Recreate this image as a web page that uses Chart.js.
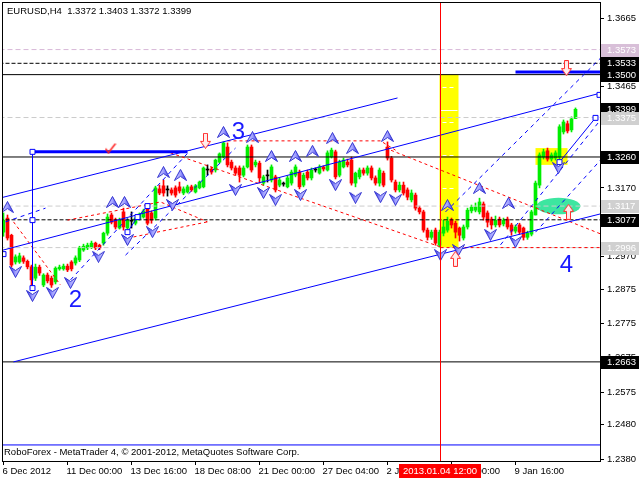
<!DOCTYPE html>
<html><head><meta charset="utf-8">
<script src="https://cdn.jsdelivr.net/npm/chart.js@4.4.1/dist/chart.umd.min.js"></script>
<style>html,body{margin:0;padding:0;background:#fff}#wrap{width:640px;height:480px}</style>
</head><body><div id="wrap"><canvas id="c" width="640" height="480"></canvas></div>
<script>
// ---------- DATA (EURUSD H4, bar index 0 = 6 Dec 2012) ----------
const opens=[1.3041,1.3082,1.3032,1.2954,1.2954,1.2966,1.2956,1.2940,1.2907,1.2939,1.2887,1.2916,1.2907,1.2896,1.2934,1.2934,1.2942,1.2954,1.2951,1.2960,
1.2989,1.2995,1.2997,1.3009,1.3003,1.3009,1.3038,1.3091,1.3076,1.3053,1.3100,1.3053,1.3073,1.3067,1.3079,1.3085,1.3114,1.3097,1.3082,1.3167,
1.3176,1.3164,1.3164,1.3170,1.3173,1.3155,1.3158,1.3173,1.3158,1.3170,1.3173,1.3222,1.3225,1.3222,1.3245,1.3260,1.3289,1.3245,1.3228,1.3228,
1.3207,1.3231,1.3289,1.3237,1.3242,1.3184,1.3205,1.3193,1.3202,1.3178,1.3181,1.3173,1.3184,1.3207,1.3216,1.3178,1.3216,1.3199,1.3222,1.3213,
1.3231,1.3222,1.3260,1.3275,1.3207,1.3231,1.3245,1.3251,1.3184,1.3202,1.3222,1.3213,1.3228,1.3199,1.3184,1.3213,1.3289,1.3257,1.3187,1.3164,
1.3178,1.3164,1.3135,1.3149,1.3111,1.3100,1.3047,1.3026,1.3047,1.3003,1.3038,1.3047,1.3076,1.3067,1.3053,1.3024,1.3056,1.3103,1.3105,1.3100,
1.3123,1.3097,1.3079,1.3062,1.3079,1.3065,1.3079,1.3062,1.3044,1.3062,1.3053,1.3026,1.3035,1.3091,1.3178,1.3260,1.3278,1.3254,1.3257,1.3260,
1.3333,1.3357,1.3339,1.3372];
const highs=[1.3097,1.3091,1.3035,1.2975,1.2980,1.2972,1.2960,1.2945,1.2948,1.2945,1.2920,1.2922,1.2913,1.2940,1.2945,1.2948,1.2948,1.2958,1.2972,1.3000,
1.3006,1.3009,1.3015,1.3012,1.3006,1.3041,1.3094,1.3097,1.3082,1.3082,1.3111,1.3080,1.3100,1.3085,1.3097,1.3108,1.3120,1.3103,1.3175,1.3178,
1.3193,1.3176,1.3170,1.3176,1.3187,1.3173,1.3178,1.3178,1.3180,1.3190,1.3231,1.3237,1.3231,1.3254,1.3272,1.3304,1.3301,1.3251,1.3234,1.3234,
1.3234,1.3295,1.3295,1.3251,1.3248,1.3207,1.3222,1.3237,1.3207,1.3199,1.3187,1.3205,1.3222,1.3237,1.3222,1.3213,1.3222,1.3228,1.3228,1.3237,
1.3234,1.3278,1.3286,1.3280,1.3251,1.3257,1.3254,1.3260,1.3216,1.3228,1.3228,1.3234,1.3234,1.3205,1.3228,1.3219,1.3304,1.3262,1.3193,1.3187,
1.3187,1.3170,1.3164,1.3155,1.3117,1.3105,1.3053,1.3047,1.3053,1.3047,1.3076,1.3085,1.3082,1.3073,1.3056,1.3062,1.3111,1.3120,1.3126,1.3140,
1.3129,1.3103,1.3085,1.3088,1.3085,1.3082,1.3085,1.3067,1.3062,1.3067,1.3056,1.3044,1.3105,1.3190,1.3272,1.3283,1.3286,1.3272,1.3278,1.3354,
1.3368,1.3365,1.3377,1.3403];
const lows=[1.3029,1.3018,1.2939,1.2948,1.2950,1.2950,1.2934,1.2875,1.2900,1.2915,1.2882,1.2893,1.2880,1.2890,1.2930,1.2930,1.2926,1.2928,1.2945,1.2955,
1.2985,1.2990,1.2993,1.2990,1.2990,1.3003,1.3032,1.3065,1.3050,1.3050,1.3047,1.3041,1.3053,1.3062,1.3076,1.3082,1.3062,1.3067,1.3076,1.3150,
1.3146,1.3146,1.3149,1.3143,1.3155,1.3150,1.3155,1.3160,1.3155,1.3167,1.3170,1.3207,1.3210,1.3216,1.3242,1.3257,1.3231,1.3222,1.3207,1.3187,
1.3202,1.3228,1.3216,1.3231,1.3184,1.3178,1.3187,1.3187,1.3158,1.3173,1.3175,1.3170,1.3178,1.3202,1.3167,1.3173,1.3193,1.3193,1.3216,1.3210,
1.3219,1.3219,1.3257,1.3196,1.3202,1.3228,1.3231,1.3178,1.3173,1.3196,1.3207,1.3207,1.3193,1.3178,1.3175,1.3173,1.3251,1.3187,1.3158,1.3158,
1.3149,1.3135,1.3129,1.3105,1.3094,1.3041,1.3018,1.3020,1.3003,1.2997,1.3030,1.3041,1.3053,1.3024,1.3015,1.3018,1.3050,1.3097,1.3100,1.3094,
1.3076,1.3056,1.3050,1.3056,1.3056,1.3059,1.3050,1.3032,1.3038,1.3035,1.3018,1.3020,1.3030,1.3091,1.3170,1.3254,1.3248,1.3248,1.3251,1.3251,
1.3327,1.3330,1.3333,1.3372];
const closes=[1.3076,1.3024,1.2945,1.2969,1.2972,1.2956,1.2940,1.2902,1.2939,1.2922,1.2916,1.2899,1.2887,1.2936,1.2939,1.2942,1.2931,1.2934,1.2966,1.2995,
1.3000,1.3003,1.3009,1.2995,1.2995,1.3038,1.3085,1.3070,1.3056,1.3076,1.3056,1.3076,1.3073,1.3082,1.3094,1.3103,1.3067,1.3076,1.3170,1.3155,
1.3155,1.3164,1.3155,1.3149,1.3161,1.3167,1.3173,1.3164,1.3176,1.3187,1.3228,1.3222,1.3216,1.3251,1.3269,1.3301,1.3237,1.3228,1.3213,1.3207,
1.3228,1.3289,1.3222,1.3245,1.3199,1.3202,1.3205,1.3231,1.3164,1.3193,1.3181,1.3199,1.3216,1.3231,1.3173,1.3207,1.3199,1.3222,1.3222,1.3231,
1.3225,1.3272,1.3280,1.3202,1.3245,1.3251,1.3237,1.3184,1.3213,1.3222,1.3213,1.3228,1.3199,1.3184,1.3222,1.3178,1.3257,1.3193,1.3164,1.3178,
1.3155,1.3143,1.3155,1.3111,1.3100,1.3047,1.3026,1.3041,1.3009,1.3041,1.3056,1.3073,1.3062,1.3041,1.3032,1.3056,1.3105,1.3114,1.3114,1.3129,
1.3085,1.3070,1.3062,1.3076,1.3062,1.3076,1.3056,1.3044,1.3056,1.3041,1.3026,1.3038,1.3100,1.3184,1.3266,1.3275,1.3254,1.3266,1.3272,1.3348,
1.3362,1.3336,1.3371,1.3399];

const yTickValues=[1.3665,1.3565,1.3465,1.3370,1.3265,1.3170,1.3070,1.2970,1.2875,1.2775,1.2675,1.2575,1.2480,1.2380];
const xTickBars=[0,16,32,48,64,80,96,112,128];
const xTickLabels=['6 Dec 2012','11 Dec 00:00','13 Dec 16:00','18 Dec 08:00','21 Dec 00:00','27 Dec 04:00','2 Jan 08:00','7 Jan 00:00','9 Jan 16:00'];

const solidLevels=[1.3500,1.3260,1.2663];
const dashedLevels=[1.3533,1.3077];
const grayLevels=[1.3375,1.3117,1.2996];
const pinkLevels=[1.3573];
const boxPrices=[1.3573,1.3533,1.3500,1.3399,1.3375,1.3260,1.3117,1.3077,1.2996,1.2663];
const boxKinds=['pink','black','black','black','gray','black','gray','black','gray','black'];

const blueSolidLines=[
 [[-1,1.3140],[98.5,1.3432]],
 [[-1,1.2986],[149.5,1.3447]],
 [[2.5,1.2663],[149.5,1.3095]],
 [[31,1.3041],[33.5,1.3085],[36,1.3117]],
 [[139,1.3245],[148,1.3374]],
 [[7.25,1.3275],[7.25,1.2878]],
 [[-1,1.2421],[149.5,1.2421]]
];
const blueThickLines=[[[7.25,1.3275],[46,1.3275]],[[128,1.3508],[149.5,1.3508]]];
const blueDashedLines=[
 [[110.5,1.3100],[149.25,1.3548]],
 [[124.25,1.3004],[149.25,1.3368]],
 [[133,1.3041],[149.25,1.3251]],
 [[16.75,1.2902],[46.75,1.3280]],
 [[30.5,1.2974],[58,1.3286]],
 [[0.5,1.3071],[10.5,1.3111]]
];
const redDashedLines=[
 [[56,1.3307],[94.25,1.3307],[98,1.3280]],
 [[41.75,1.3272],[109.25,1.2998]],
 [[95.5,1.3286],[149.25,1.3036]],
 [[109.25,1.2996],[149.5,1.2996]],
 [[2.5,1.3071],[14.25,1.2887]],
 [[16,1.3076],[39.25,1.3129],[51,1.3071]],
 [[32.5,1.3027],[51,1.3071]]
];
const upFractals=[[1,1.3114],[27.25,1.3129],[30.25,1.3129],[40,1.3216],[44.25,1.3208],[55,1.3333],[62.25,1.3318],[67,1.3263],[73,1.3263],[77.25,1.3278],[82.25,1.3315],[87.25,1.3286],[96,1.3321],[111,1.3120],[119,1.3170],[126.25,1.3126]];
const downFractals=[[3,1.2925],[7.25,1.2855],[12.25,1.2864],[16.75,1.2893],[23.75,1.2969],[31,1.3018],[37.25,1.3041],[42.25,1.3120],[58,1.3164],[65,1.3155],[68,1.3135],[74.25,1.3149],[83,1.3178],[88,1.3141],[94.25,1.3143],[98,1.3135],[109.25,1.2974],[113.75,1.2989],[121.75,1.3033],[128,1.3012],[138.75,1.3228]];
const anchorSquares=[[7.25,1.3275],[7.25,1.3076],[7.25,1.2878],[0,1.2977],[31,1.3041],[33.5,1.3085],[36,1.3117],[139,1.3245],[148,1.3374],[149,1.3441]];
const redDownArrows=[[50.5,1.3307],[140.75,1.3519]];
const redUpArrows=[[113,1.2963],[141.25,1.3100]];
const checkMarks=[[26.75,1.3286]];
const zones=[[109,113.75,1.3500,1.2996],[133,141,1.3286,1.3237]];
const zoneMarks=[1.3464,1.3362,1.3266,1.3170];
const ellipseSpec=[138.75,1.3117,5.5,0.0024];
const waveLabels=['2','3','4'];
const waveBars=[18,58.75,140.75];
const wavePrices=[1.2843,1.3333,1.2945];
const crossBar=109;
const crossLabel='2013.01.04 12:00';
const titleText='EURUSD,H4  1.3372 1.3403 1.3372 1.3399';
const footerText='RoboForex - MetaTrader 4, \u00A9 2001-2012, MetaQuotes Software Corp.';

// ---------- STYLE ----------
const FONT='Liberation Sans, Arial, sans-serif';
const FS=9.5;
const GREEN='#00ee00', RED='#ff0000', BLUE='#0000ff';
const Y_MIN=1.237421, Y_MAX=1.371162;

function mkFractal(){const c=document.createElement('canvas');c.width=13;c.height=12;const g=c.getContext('2d');
 g.beginPath();g.moveTo(6.5,0.5);g.lineTo(12.5,11.5);g.lineTo(6.5,7.5);g.lineTo(0.5,11.5);g.closePath();
 const gr=g.createLinearGradient(0,0,13,0);gr.addColorStop(0,'#e0e0ff');gr.addColorStop(0.5,'#a0a0ff');gr.addColorStop(1,'#3030e0');
 g.fillStyle=gr;g.fill();g.strokeStyle='#3030d0';g.lineWidth=1;g.stroke();return c;}
function mkHollow(){const c=document.createElement('canvas');c.width=11;c.height=16;const g=c.getContext('2d');
 g.beginPath();g.moveTo(3.5,0.5);g.lineTo(7.5,0.5);g.lineTo(7.5,8.5);g.lineTo(10.5,8.5);g.lineTo(5.5,15.5);g.lineTo(0.5,8.5);g.lineTo(3.5,8.5);g.closePath();
 g.fillStyle='#ffecec';g.fill();g.strokeStyle='#ff3030';g.lineWidth=1;g.stroke();return c;}
function mkCheck(){const c=document.createElement('canvas');c.width=12;c.height=11;const g=c.getContext('2d');
 g.beginPath();g.moveTo(1,6);g.lineTo(4,10);g.lineTo(11,1);g.strokeStyle='#ff2020';g.lineWidth=1.5;g.stroke();return c;}
const fractalImg=mkFractal(), hollowImg=mkHollow(), checkImg=mkCheck();

const idx=opens.map((_,i)=>i);
const candleColor=i=>closes[i]>opens[i]?GREEN:(closes[i]<opens[i]?RED:'#000000');
const toPts=a=>a.map(p=>({x:p[0],y:p[1]}));
function lineDs(pts,color,width,dash,order){return {type:'line',data:toPts(pts),borderColor:color,borderWidth:width,borderDash:dash||[],pointRadius:0,fill:false,tension:0,order:order};}
function ptDs(pts,style,rot,order,extra){return Object.assign({type:'scatter',data:toPts(pts),pointStyle:style,rotation:rot,pointRadius:6,order:order},extra||{});}

const datasets=[];
datasets.push({type:'bar',data:idx.map(i=>({x:i,y:[lows[i],highs[i]]})),backgroundColor:idx.map(candleColor),barThickness:1,grouped:false,order:21});
datasets.push({type:'bar',data:idx.map(i=>({x:i,y:[opens[i],closes[i]]})),backgroundColor:idx.map(candleColor),barThickness:3,minBarLength:1,grouped:false,order:20});
pinkLevels.forEach(v=>datasets.push(lineDs([[-1,v],[150,v]],'#d8b8d8',1,[5,3],15)));
grayLevels.forEach(v=>datasets.push(lineDs([[-1,v],[150,v]],'#cccccc',1,[5,3],15)));
solidLevels.forEach(v=>datasets.push(lineDs([[-1,v],[150,v]],'#000000',1,[],9)));
dashedLevels.forEach(v=>datasets.push(lineDs([[-1,v],[150,v]],'#000000',1,[4,2],9)));
redDashedLines.forEach(l=>datasets.push(lineDs(l,'#ff0000',1,[3,3],8)));
blueDashedLines.forEach(l=>datasets.push(lineDs(l,BLUE,1,[4,4],7)));
blueSolidLines.forEach(l=>datasets.push(lineDs(l,BLUE,1,[],6)));
blueThickLines.forEach(l=>datasets.push(lineDs(l,BLUE,3,[],6)));
datasets.push(ptDs(anchorSquares,'rect',0,4,{pointRadius:3.5,backgroundColor:'#ffffff',borderColor:BLUE,borderWidth:1}));
datasets.push(ptDs(upFractals,fractalImg,0,3));
datasets.push(ptDs(downFractals,fractalImg,180,3));
datasets.push(ptDs(redDownArrows,hollowImg,0,2));
datasets.push(ptDs(redUpArrows,hollowImg,180,2));
datasets.push(ptDs(checkMarks,checkImg,0,2));

const bgPlugin={id:'bg',beforeDatasetsDraw(chart){
 const {ctx,chartArea:a,scales:{x,y}}=chart;ctx.save();ctx.beginPath();ctx.rect(a.left,a.top,a.width,a.height);ctx.clip();
 zones.forEach(z=>{const x0=x.getPixelForValue(z[0]),x1=x.getPixelForValue(z[1]),y0=y.getPixelForValue(z[2]),y1=y.getPixelForValue(z[3]);
  ctx.fillStyle='#ffff00';ctx.fillRect(x0,y0,x1-x0,y1-y0);});
 const z=zones[0];const zx0=x.getPixelForValue(z[0])+3,zx1=x.getPixelForValue(z[1])-3;
 ctx.strokeStyle='#ffffff';ctx.lineWidth=1;ctx.setLineDash([4,3]);
 zoneMarks.forEach(v=>{const yy=Math.round(y.getPixelForValue(v))+0.5;ctx.beginPath();ctx.moveTo(zx0,yy);ctx.lineTo(zx1,yy);ctx.stroke();});
 ctx.setLineDash([]);const ys=Math.round(y.getPixelForValue(1.3397))+0.5;ctx.beginPath();ctx.moveTo(zx0-2,ys);ctx.lineTo(zx1+2,ys);ctx.stroke();
 const e=ellipseSpec;const cx=x.getPixelForValue(e[0]),cy=y.getPixelForValue(e[1]);
 const rx=x.getPixelForValue(e[0]+e[2])-cx,ry=y.getPixelForValue(e[1]-e[3])-cy;
 ctx.fillStyle='#3de6a0';ctx.beginPath();ctx.ellipse(cx,cy,rx,ry,0,0,Math.PI*2);ctx.fill();
 ctx.restore();},
 afterDatasetsDraw(chart){
 const {ctx,chartArea:a,scales:{x}}=chart;ctx.save();
 const px=Math.floor(x.getPixelForValue(crossBar))+1;
 ctx.fillStyle='#ff0000';ctx.fillRect(px,a.top,1,a.height);
 ctx.restore();}};

const fgPlugin={id:'fg',afterDraw(chart){
 const {ctx,chartArea:a,scales:{x,y}}=chart;ctx.save();
 ctx.strokeStyle='#000';ctx.lineWidth=1;ctx.strokeRect(a.left+0.5,a.top+0.5,a.width,a.height);
 ctx.fillStyle='#1a1aff';ctx.font='24px '+FONT;ctx.textAlign='center';ctx.textBaseline='middle';
 waveLabels.forEach((t,i)=>ctx.fillText(t,x.getPixelForValue(waveBars[i]),y.getPixelForValue(wavePrices[i])));
 ctx.font=FS+'px '+FONT;ctx.textAlign='left';ctx.fillStyle='#000';
 ctx.fillText(titleText,a.left+5,a.top+9);
 ctx.fillText(footerText,a.left+2,a.bottom-9);
 const colors={black:'#000000',gray:'#d0d0d0',pink:'#d8bfd8'};
 boxPrices.forEach((v,i)=>{const yy=y.getPixelForValue(v);ctx.fillStyle=colors[boxKinds[i]];
  ctx.fillRect(a.right+1,Math.round(yy)-6,38,13);ctx.fillStyle='#ffffff';ctx.fillText(v.toFixed(4),a.right+7,Math.round(yy)+0.5);});
 const cxp=x.getPixelForValue(crossBar)+0.5;const w=ctx.measureText(crossLabel).width+8;
 ctx.fillStyle='#ff0000';ctx.fillRect(Math.round(cxp-w/2),a.bottom+3,Math.round(w),14);
 ctx.fillStyle='#ffffff';ctx.textAlign='center';ctx.fillText(crossLabel,cxp,a.bottom+10.5);
 ctx.restore();}};

new Chart(document.getElementById('c'),{
 type:'bar',
 data:{datasets},
 options:{responsive:false,animation:false,events:[],
  layout:{autoPadding:false,padding:{left:2,top:2,right:0,bottom:0}},
  plugins:{legend:{display:false},tooltip:{enabled:false}},
  scales:{
   x:{type:'linear',min:-0.375,max:149.125,offset:false,
    afterFit:s=>{s.height=19;s.paddingLeft=0;s.paddingRight=0;},
    afterBuildTicks:s=>{s.ticks=xTickBars.map(v=>({value:v}));},
    ticks:{autoSkip:false,maxRotation:0,minRotation:0,align:'start',padding:1,labelOffset:-1,color:'#000',font:{family:FONT,size:FS},
     callback:v=>{const k=xTickBars.indexOf(v);return k>=0?xTickLabels[k]:'';}},
    grid:{drawOnChartArea:false,drawTicks:true,tickLength:4,color:'#000',offset:false},border:{display:false}},
   y:{type:'linear',position:'right',min:Y_MIN,max:Y_MAX,
    afterFit:s=>{s.width=40;s.paddingTop=0;s.paddingBottom=0;},
    afterBuildTicks:s=>{s.ticks=yTickValues.map(v=>({value:v}));},
    ticks:{padding:3,color:'#000',font:{family:FONT,size:FS,lineHeight:0.3},callback:v=>Number(v).toFixed(4)},
    grid:{drawOnChartArea:false,drawTicks:true,tickLength:4,color:'#000'},border:{display:false}}
  }},
 plugins:[bgPlugin,fgPlugin]
});
</script></body></html>
